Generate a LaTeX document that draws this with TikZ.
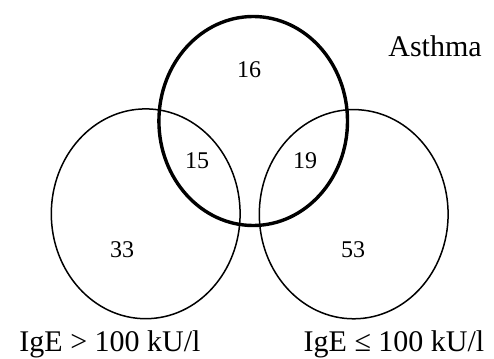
\documentclass[tikz,border=0pt]{standalone}
\usepackage{fontspec}
\setmainfont{Liberation Serif}
\begin{document}
\begin{tikzpicture}[x=1pt,y=-1pt,
  thinset/.style={draw=black,line width=1.5pt},
  thickset/.style={draw=black,line width=3.4pt},
  numlbl/.style={anchor=base,inner sep=0pt,font=\fontsize{24}{24}\selectfont},
  setlbl/.style={anchor=base,inner sep=0pt,font=\fontsize{30}{30}\selectfont}]
\useasboundingbox (0,0) rectangle (494,358);
\draw[thinset] (145.7,213.8) ellipse [x radius=94.4pt, y radius=104.9pt];
\draw[thinset] (353.7,214.2) ellipse [x radius=94.4pt, y radius=104.6pt];
\draw[thickset] (253.2,121) ellipse [x radius=94.3pt, y radius=104.5pt];
\node[numlbl] (n16) at (249,78) {16};
\node[numlbl] (n15) at (197,168) {15};
\node[numlbl] (n19) at (305,168) {19};
\node[numlbl] (n33) at (122,257) {33};
\node[numlbl] (n53) at (353,257) {53};
\node[setlbl] (asthma) at (435,57) {Asthma};
\node[setlbl] (high) at (110,351) {IgE > 100 kU/l};
\node[setlbl] (low) at (394,351) {IgE ≤ 100 kU/l};
\end{tikzpicture}
\end{document}
